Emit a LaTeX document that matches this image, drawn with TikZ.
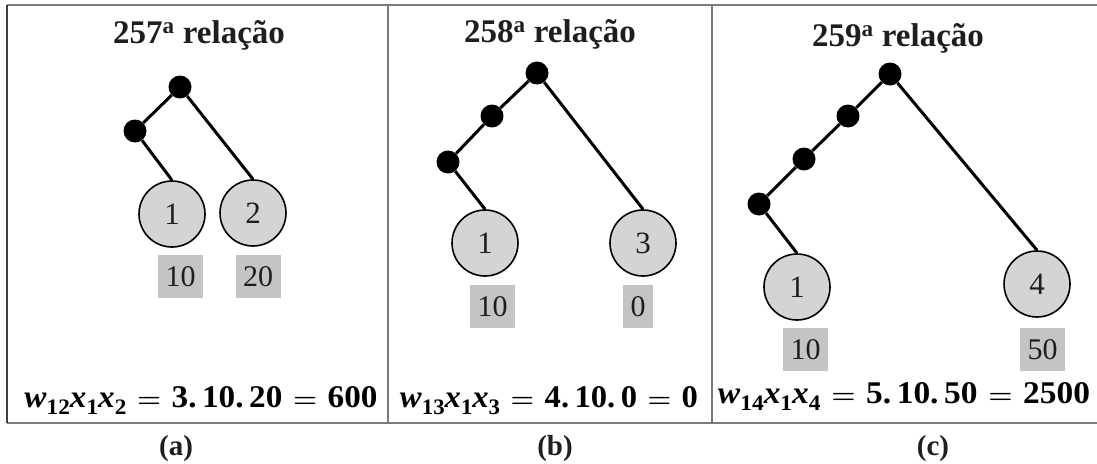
\documentclass[tikz,border=0pt]{standalone}
\usepackage{fontspec}
\setmainfont{Liberation Serif}
\usepackage{graphicx}
\definecolor{leafgray}{HTML}{D4D4D4}
\definecolor{boxgray}{HTML}{C4C4C4}
\definecolor{framegray}{HTML}{7A7A7A}
\definecolor{ink}{HTML}{1E1E1E}
\newcommand{\lowsub}[1]{\raisebox{-7pt}{\fontsize{21}{21}\selectfont #1}}
\newcommand{\bigeq}{\hspace{0.32em}{\boldmath$=$}\hspace{0.32em}}
\newcommand{\eqbox}[2]{\resizebox{#1}{21pt}{\fontsize{30}{30}\selectfont\bfseries #2}}
\begin{document}
\begin{tikzpicture}[x=1pt,y=-1pt,
  dotnode/.style={circle, fill=black, inner sep=0pt, minimum size=23pt},
  leaf/.style={circle, draw=black, line width=1.6pt, fill=leafgray, inner sep=0pt, minimum size=66pt, text=ink, font=\fontsize{31}{31}\selectfont},
  valbox/.style={fill=boxgray, inner sep=0pt, minimum height=43pt, minimum width=45pt, text=ink, font=\fontsize{30}{30}\selectfont},
  edge/.style={line width=3pt, black},
  framestyle/.style={line width=1.5pt, framegray},
  titlestyle/.style={anchor=base, text=ink, font=\bfseries\fontsize{33}{33}\selectfont},
  eqnstyle/.style={anchor=base, text=black},
  capstyle/.style={anchor=base, text=ink, font=\bfseries\fontsize{29}{29}\selectfont}]
\useasboundingbox (0,0) rectangle (1097,463);
% frame
\coordinate (tl) at (7,5);
\coordinate (tr) at (1097,5);
\coordinate (bl) at (7,423);
\coordinate (br) at (1097,423);
\coordinate (d1t) at (388,5);
\coordinate (d1b) at (388,423);
\coordinate (d2t) at (712,5);
\coordinate (d2b) at (712,423);
\draw[framestyle] (tl) -- (tr);
\draw[framestyle] (bl) -- (br);
\draw[line width=1.5pt, ink!85] (tl) -- (bl);
\draw[framestyle] (d1t) -- (d1b);
\draw[framestyle] (d2t) -- (d2b);

% ---------- panel (a)
\node[titlestyle] (ta) at (199,43) {257\textsuperscript{a} relação};
\node[dotnode] (a0) at (180,87) {};
\node[dotnode] (a1) at (135,131) {};
\node[leaf] (a1l) at (172,214) {1};
\node[leaf] (a2l) at (253,213) {2};
\draw[edge] (a0) -- (a1);
\draw[edge] (a1) -- (a1l.north);
\draw[edge] (a0) -- (a2l.north);
\node[valbox] (av1) at (180.5,276.5) {10};
\node[valbox] (av2) at (258,276.5) {20};
\node[eqnstyle] (ea) at (201,407) {\eqbox{353pt}{\textit{w}\lowsub{12}\textit{x}\lowsub{1}\textit{x}\lowsub{2}\bigeq 3.\,10.\,20\bigeq 600}};
\node[capstyle] (ca) at (176,455) {(a)};

% ---------- panel (b)
\node[titlestyle] (tb) at (550,42) {258\textsuperscript{a} relação};
\node[dotnode] (b0) at (537,73) {};
\node[dotnode] (b1) at (492,116) {};
\node[dotnode] (b2) at (448,162) {};
\node[leaf] (b1l) at (485,243) {1};
\node[leaf] (b3l) at (643,243) {3};
\draw[edge] (b0) -- (b1) -- (b2);
\draw[edge] (b2) -- (b1l.north);
\draw[edge] (b0) -- (b3l.north);
\node[valbox] (bv1) at (492.5,306.5) {10};
\node[valbox, minimum width=30pt] (bv3) at (638,306.5) {0};
\node[eqnstyle] (eb) at (549,407) {\eqbox{298pt}{\textit{w}\lowsub{13}\textit{x}\lowsub{1}\textit{x}\lowsub{3}\bigeq 4.\,10.\,0\bigeq 0}};
\node[capstyle] (cb) at (555,455) {(b)};

% ---------- panel (c)
\node[titlestyle] (tc) at (898,46) {259\textsuperscript{a} relação};
\node[dotnode] (c0) at (890,74) {};
\node[dotnode] (c1) at (848,116) {};
\node[dotnode] (c2) at (804,159) {};
\node[dotnode] (c3) at (759,204) {};
\node[leaf] (c1l) at (797,287) {1};
\node[leaf] (c4l) at (1037,284) {4};
\draw[edge] (c0) -- (c1) -- (c2) -- (c3);
\draw[edge] (c3) -- (c1l.north);
\draw[edge] (c0) -- (c4l.north);
\node[valbox] (cv1) at (805.5,349.5) {10};
\node[valbox] (cv4) at (1042.5,349.5) {50};
\node[eqnstyle] (ec) at (904,403) {\eqbox{372pt}{\textit{w}\lowsub{14}\textit{x}\lowsub{1}\textit{x}\lowsub{4}\bigeq 5.\,10.\,50\bigeq 2500}};
\node[capstyle] (cc) at (933,455) {(c)};
\end{tikzpicture}
\end{document}
